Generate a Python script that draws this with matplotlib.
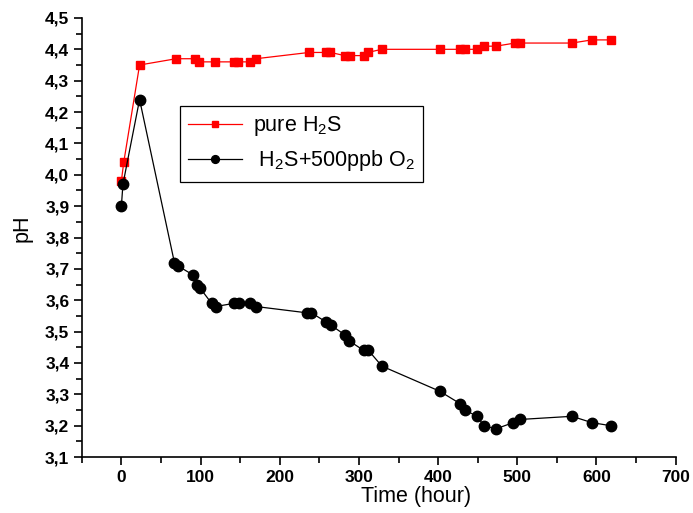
import matplotlib
matplotlib.use('Agg')
import matplotlib.pyplot as plt
from matplotlib.ticker import MultipleLocator, FuncFormatter

plt.rcParams['font.family'] = ['Liberation Sans', 'DejaVu Sans']
plt.rcParams['mathtext.default'] = 'regular'

# pure H2S
t_pure = [0, 3, 23, 69, 93, 98, 118, 142, 147, 163, 170, 237, 259, 264, 282, 289,
          306, 311, 329, 402, 428, 434, 449, 458, 473, 497, 504, 569, 594, 618]
ph_pure = [3.98, 4.04, 4.35, 4.37, 4.37, 4.36, 4.36, 4.36, 4.36, 4.36, 4.37, 4.39, 4.39, 4.39,
           4.38, 4.38, 4.38, 4.39, 4.40, 4.40, 4.40, 4.40, 4.40, 4.41, 4.41, 4.42, 4.42,
           4.42, 4.43, 4.43]

# H2S + 500 ppb O2
t_o2 = [0, 2, 23, 67, 71, 91, 96, 99, 114, 119, 142, 149, 163, 170, 234, 240, 259, 265,
        282, 288, 306, 312, 329, 402, 428, 434, 449, 458, 473, 495, 504, 569, 594, 618]
ph_o2 = [3.90, 3.97, 4.24, 3.72, 3.71, 3.68, 3.65, 3.64, 3.59, 3.58, 3.59, 3.59, 3.59, 3.58,
         3.56, 3.56, 3.53, 3.52, 3.49, 3.47, 3.44, 3.44, 3.39, 3.31, 3.27, 3.25, 3.23,
         3.20, 3.19, 3.21, 3.22, 3.23, 3.21, 3.20]

fig = plt.figure(figsize=(6.93, 5.13), dpi=100)
ax = fig.add_axes([0.118, 0.109, 0.857, 0.856])

ax.plot(t_pure, ph_pure, color='red', marker='s', markersize=6, lw=0.9,
        label='pure H$_2$S')
ax.plot(t_o2, ph_o2, color='black', marker='o', markersize=7.5, lw=0.9,
        label=' H$_2$S+500ppb O$_2$')

ax.set_xlim(-50, 700)
ax.set_ylim(3.1, 4.5)
ax.xaxis.set_major_locator(MultipleLocator(100))
ax.xaxis.set_minor_locator(MultipleLocator(50))
ax.yaxis.set_major_locator(MultipleLocator(0.1))
ax.yaxis.set_minor_locator(MultipleLocator(0.05))
ax.yaxis.set_major_formatter(FuncFormatter(lambda v, p: f'{v:.1f}'.replace('.', ',')))

for s in ['top', 'right']:
    ax.spines[s].set_visible(False)
for s in ['left', 'bottom']:
    ax.spines[s].set_linewidth(1.2)

ax.tick_params(which='major', direction='out', length=6, width=1.2, labelsize=12.5, pad=3)
ax.tick_params(which='minor', direction='out', length=4, width=1.2)
for lab in ax.get_xticklabels() + ax.get_yticklabels():
    lab.set_fontweight('bold')

ax.set_xlabel('Time (hour)', fontsize=15.5)
ax.set_ylabel('pH', fontsize=15.5)
ax.xaxis.set_label_coords(0.5625, -0.065)
ax.yaxis.set_label_coords(-0.083, 0.52)

leg = ax.legend(loc='upper left', bbox_to_anchor=(0.165, 0.80), fontsize=15.5,
                fancybox=False, edgecolor='black', framealpha=1, borderaxespad=0,
                handlelength=2.5, handletextpad=0.5, markerscale=0.75,
                borderpad=0.4, labelspacing=0.45)
leg.get_frame().set_linewidth(0.9)

fig.savefig('out.png', dpi=100)
